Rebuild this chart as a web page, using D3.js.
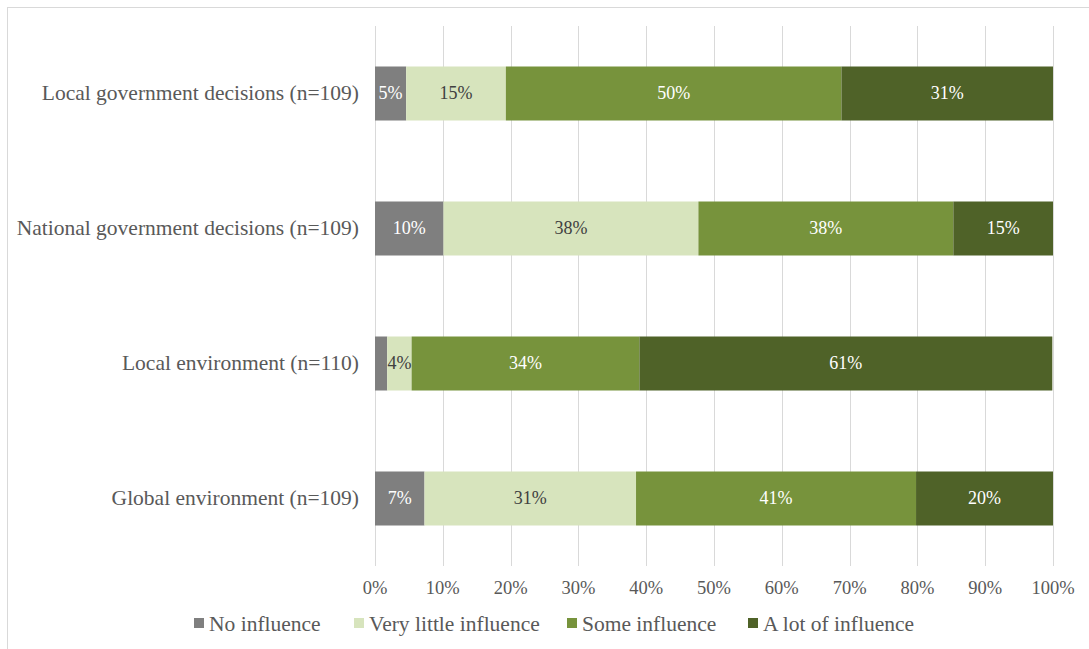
<!DOCTYPE html>
<html>
<head>
<meta charset="utf-8">
<script src="https://cdn.jsdelivr.net/npm/d3@7/dist/d3.min.js"></script>
<style>
  body { margin: 0; background: #fff; }
</style>
</head>
<body>
<svg id="chart" width="1089" height="649" font-family="'Liberation Serif', 'Times New Roman', serif"></svg>
<script>
// categories, top to bottom
const categories = [
    'Local government decisions (n=109)',
    'National government decisions (n=109)',
    'Local environment (n=110)',
    'Global environment (n=109)'
];
const seriesNames = ['No influence', 'Very little influence', 'Some influence', 'A lot of influence'];

// percentage shares
const noInfluence = [4.6, 10.1, 1.8, 7.3];
const veryLittle  = [14.7, 37.6, 3.6, 31.2];
const someInf     = [49.5, 37.6, 33.6, 41.3];
const aLot        = [31.2, 14.7, 60.9, 20.2];

const tickValues = [0, 10, 20, 30, 40, 50, 60, 70, 80, 90, 100];

const colors = ['#7f7f7f', '#d7e4bd', '#77933c', '#4f6228'];
const labelColors = ['#ffffff', '#404040', '#ffffff', '#ffffff'];

const rows = categories.map((c, i) => ({
    cat: c,
    v: [noInfluence[i], veryLittle[i], someInf[i], aLot[i]]
}));

const svg = d3.select('#chart');
const W = 1089, H = 649;
const m = { left: 375, right: 36, top: 26, bottom: 83 };

// outer frame
svg.append('rect')
    .attr('x', 7.5).attr('y', 7.5)
    .attr('width', W).attr('height', H)
    .attr('fill', 'none')
    .attr('stroke', '#d9d9d9');

const x = d3.scaleLinear().domain([0, 100]).range([m.left, W - m.right]);
const y = d3.scaleBand().domain(categories).range([m.top, H - m.bottom]).paddingInner(0.6).paddingOuter(0.3);

// gridlines
svg.append('g').selectAll('line')
    .data(tickValues)
    .join('line')
    .attr('x1', d => Math.round(x(d)) + 0.5).attr('x2', d => Math.round(x(d)) + 0.5)
    .attr('y1', m.top).attr('y2', H - m.bottom)
    .attr('stroke', '#d9d9d9')
    .attr('stroke-width', 1);

// x tick labels
svg.append('g').selectAll('text')
    .data(tickValues)
    .join('text')
    .attr('x', d => x(d))
    .attr('y', H - m.bottom + 28)
    .attr('text-anchor', 'middle')
    .attr('font-size', 18.5)
    .attr('fill', '#595959')
    .text(d => d + '%');

// category labels
svg.append('g').selectAll('text')
    .data(categories)
    .join('text')
    .attr('x', m.left - 16)
    .attr('y', d => y(d) + y.bandwidth() / 2)
    .attr('dy', '0.32em')
    .attr('text-anchor', 'end')
    .attr('font-size', 21.5)
    .attr('fill', '#595959')
    .text(d => d);

// stacked segments
const segs = [];
rows.forEach(r => {
    let acc = 0;
    r.v.forEach((v, k) => {
        segs.push({ cat: r.cat, k: k, x0: acc, x1: acc + v, v: v });
        acc += v;
    });
});

const bars = svg.append('g');
bars.selectAll('rect')
    .data(segs)
    .join('rect')
    .attr('x', d => x(d.x0))
    .attr('y', d => y(d.cat))
    .attr('width', d => x(d.x1) - x(d.x0))
    .attr('height', y.bandwidth())
    .attr('fill', d => colors[d.k]);

bars.selectAll('text')
    .data(segs.filter(d => d.v >= 3))
    .join('text')
    .attr('x', d => x((d.x0 + d.x1) / 2))
    .attr('y', d => y(d.cat) + y.bandwidth() / 2)
    .attr('dy', '0.32em')
    .attr('text-anchor', 'middle')
    .attr('font-size', 18)
    .attr('fill', d => labelColors[d.k])
    .text(d => Math.round(d.v) + '%');

// legend
const legendX = [194, 354, 567, 748];
const leg = svg.append('g').selectAll('g')
    .data(seriesNames)
    .join('g')
    .attr('transform', (d, i) => `translate(${legendX[i]},624)`);
leg.append('rect')
    .attr('x', 0).attr('y', -6)
    .attr('width', 10).attr('height', 10)
    .attr('fill', (d, i) => colors[i]);
leg.append('text')
    .attr('x', 15).attr('y', 0)
    .attr('dy', '0.32em')
    .attr('font-size', 21.5)
    .attr('fill', '#595959')
    .text(d => d);
</script>
</body>
</html>
